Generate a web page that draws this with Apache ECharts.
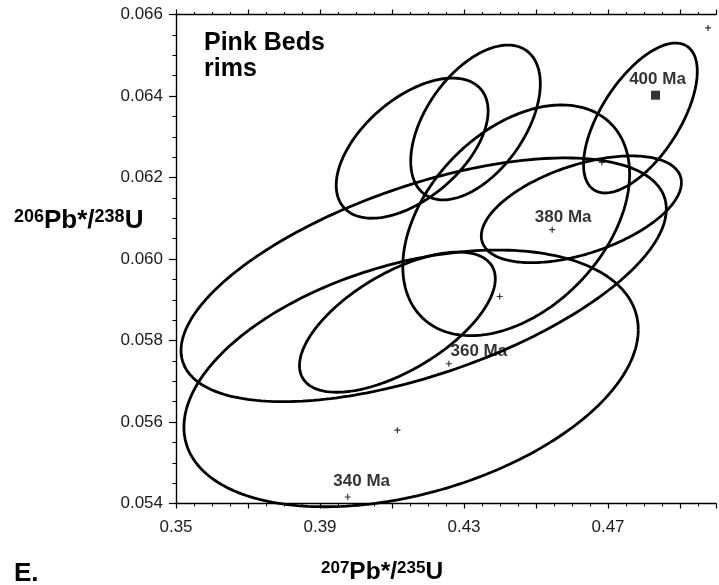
<!DOCTYPE html>
<html>
<head>
<meta charset="utf-8">
<title>Pink Beds rims – U-Pb concordia</title>
<script src="https://cdn.jsdelivr.net/npm/echarts@6/dist/echarts.min.js"></script>
<style>
  html, body { margin: 0; padding: 0; background: #fff; }
  #main { width: 719px; height: 585px; }
</style>
</head>
<body>
<div id="main"></div>
<script>
// Error ellipses (2-sigma) for the rim analyses
const ellipseR75 = [0.4153, 0.4188, 0.4115, 0.4445, 0.4626, 0.4790, 0.4156, 0.4332]; // 207Pb*/235U
const ellipseR68 = [0.05707, 0.05949, 0.05845, 0.06095, 0.06122, 0.06346, 0.06272, 0.06335]; // 206Pb*/238U
const errR75 = [0.0631, 0.0674, 0.0272, 0.0315, 0.0278, 0.0158, 0.0211, 0.0180];
const errR68 = [0.00315, 0.00299, 0.00172, 0.00283, 0.00131, 0.00184, 0.00172, 0.00190];
const rho = [0.38, 0.58, 0.62, 0.40, 0.50, 0.62, 0.53, 0.50];

// Concordia age ticks (Ma)
const concAges = [340, 350, 360, 370, 380, 390, 400, 410];
const concR75 = [0.3977, 0.4115, 0.4258, 0.4399, 0.4545, 0.4683, 0.4832, 0.4978];
const concR68 = [0.05416, 0.05580, 0.05743, 0.05908, 0.06072, 0.06237, 0.06402, 0.06567];
const ageLabels = ['340 Ma', '', '360 Ma', '', '380 Ma', '', '400 Ma', ''];

// Axis tick labels
const xTickLabels = ['0.35', '0.39', '0.43', '0.47'];
const yTickLabels = ['0.054', '0.056', '0.058', '0.060', '0.062', '0.064', '0.066'];

const FONT = '"Liberation Sans", Arial, Helvetica, sans-serif';
const INK = '#000';

// label placement around the age ticks, in pixels
const ageLabelOffset = { 340: [14, -16], 360: [30, -12], 380: [11, -12], 400: [2, -16] };

function ellipsePoints(i) {
  const pts = [];
  const n = 240;
  const s = Math.sqrt(1 - rho[i] * rho[i]);
  for (let k = 0; k <= n; k++) {
    const t = 2 * Math.PI * k / n;
    const c = Math.cos(t), sn = Math.sin(t);
    pts.push([
      ellipseR75[i] + errR75[i] * c,
      ellipseR68[i] + errR68[i] * (rho[i] * c + s * sn)
    ]);
  }
  return pts;
}

const ellipseSeries = ellipseR75.map((_, i) => ({
  type: 'line',
  name: 'ellipse' + (i + 1),
  data: ellipsePoints(i),
  showSymbol: false,
  symbol: 'none',
  clip: false,
  silent: true,
  lineStyle: { color: INK, width: 2.8 },
  z: 3
}));

const plusPath = 'path://M2,0H3V2H5V3H3V5H2V3H0V2H2Z';

const concData = concAges.map((age, i) => {
  const lab = ageLabels[i];
  const item = {
    value: [concR75[i], concR68[i]],
    symbol: age === 400 ? 'rect' : plusPath,
    symbolSize: age === 400 ? 9 : 6
  };
  if (lab) {
    item.label = {
      show: true,
      formatter: lab,
      position: 'inside',
      offset: ageLabelOffset[age],
      fontSize: 17,
      fontWeight: 'bold',
      fontFamily: FONT,
      color: INK
    };
  }
  return item;
});

const concSeries = {
  type: 'scatter',
  name: 'concordia',
  data: concData,
  itemStyle: { color: INK },
  label: { show: false },
  clip: false,
  silent: true,
  z: 5
};

function xLabel(v) {
  const s = v.toFixed(2);
  return xTickLabels.indexOf(s) >= 0 ? s : '';
}
function yLabel(v) {
  const s = v.toFixed(3);
  return yTickLabels.indexOf(s) >= 0 ? s : '';
}

const axisLineStyle = { color: INK, width: 1.4 };

const option = {
  animation: false,
  backgroundColor: '#fff',
  grid: { left: 176, top: 14.5, width: 544, height: 489 },
  xAxis: [
    {
      type: 'value', min: 0.35, max: 0.50, interval: 0.02, position: 'bottom',
      axisLine: { show: true, onZero: false, lineStyle: axisLineStyle },
      axisTick: { show: true, length: 5, lineStyle: { color: INK, width: 1.2 } },
      minorTick: { show: true, splitNumber: 4, length: 3, lineStyle: { color: INK, width: 1 } },
      splitLine: { show: false },
      axisLabel: { formatter: xLabel, fontSize: 17, fontFamily: FONT, color: '#1a1a1a', margin: 15, showMinLabel: true, showMaxLabel: true }
    },
    {
      type: 'value', min: 0.35, max: 0.50, interval: 0.02, position: 'top',
      axisLine: { show: true, onZero: false, lineStyle: axisLineStyle },
      axisTick: { show: true, length: 5, lineStyle: { color: INK, width: 1.2 } },
      minorTick: { show: true, splitNumber: 4, length: 2.5, lineStyle: { color: INK, width: 1 } },
      splitLine: { show: false },
      axisLabel: { show: false }
    }
  ],
  yAxis: [
    {
      type: 'value', min: 0.054, max: 0.066, interval: 0.002, position: 'left',
      axisLine: { show: true, onZero: false, lineStyle: axisLineStyle },
      axisTick: { show: true, length: 7, lineStyle: { color: INK, width: 1.2 } },
      minorTick: { show: true, splitNumber: 4, length: 3.5, lineStyle: { color: INK, width: 1 } },
      splitLine: { show: false },
      axisLabel: { formatter: yLabel, fontSize: 17, fontFamily: FONT, color: '#1a1a1a', margin: 13, showMinLabel: true, showMaxLabel: true }
    }
  ],
  series: ellipseSeries.concat([concSeries]),
  graphic: [
    {
      type: 'text', top: 30, left: 204,
      style: { text: 'Pink Beds\nrims', fill: INK, font: 'bold 25px ' + FONT, lineHeight: 26 }
    },
    {
      type: 'text', left: 14, top: 208,
      style: {
        text: '{s|206}{m|Pb*/}{s|238}{m|U}',
        fill: INK,
        rich: {
          s: { fontSize: 18, fontWeight: 'bold', fontFamily: FONT, fill: INK, verticalAlign: 'top' },
          m: { fontSize: 26, fontWeight: 'bold', fontFamily: FONT, fill: INK }
        }
      }
    },
    {
      type: 'text', left: 321, top: 560,
      style: {
        text: '{s|207}{m|Pb*/}{s|235}{m|U}',
        fill: INK,
        rich: {
          s: { fontSize: 17, fontWeight: 'bold', fontFamily: FONT, fill: INK, verticalAlign: 'top' },
          m: { fontSize: 24.5, fontWeight: 'bold', fontFamily: FONT, fill: INK }
        }
      }
    },
    {
      type: 'text', left: 14, top: 561,
      style: { text: 'E.', fill: INK, font: 'bold 26px ' + FONT }
    }
  ]
};

const chart = echarts.init(document.getElementById('main'), null, { renderer: 'canvas' });
chart.setOption(option);
</script>
</body>
</html>
